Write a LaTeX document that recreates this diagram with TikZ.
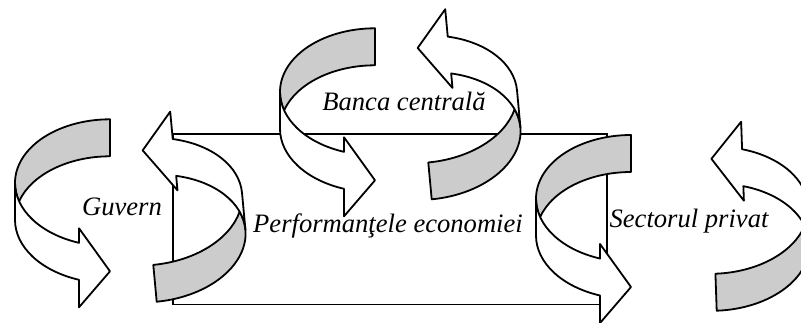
\documentclass[tikz,border=0pt]{standalone}
\usepackage{fontspec}
\setmainfont{Liberation Serif}
\usepackage{xcolor}
\usepackage{tikz}
\definecolor{backside}{HTML}{CCCCCC}

\begin{document}
\begin{tikzpicture}[
  x=0.5pt, y=0.5pt,
  every node/.style={font=\fontsize{13.3}{16}\selectfont\itshape},
  ribbon/.style={draw=black, line width=0.9pt, line join=round},
  ribbonfront/.style={ribbon, fill=white},
  ribbonback/.style={ribbon, fill=backside},
  box/.style={
    rectangle, draw=black, line width=0.9pt,
    minimum width=217pt, minimum height=85.25pt, inner sep=0pt
  },
  curvarrow/.pic={
    % inner face, seen at the back
    \path[ribbonback] (0,-37)
      arc[start angle=90, end angle=163.06, x radius=95, y radius=63.5]
      arc[start angle=196.94, end angle=90, x radius=95, y radius=63.5] -- cycle;
    % outer face with the head
    \path[ribbonfront] (-95,-63.5)
      arc[start angle=180, end angle=250.96, x radius=95, y radius=63.5]
      -- (-31,-109) -- (0,-152) -- (-31,-188) -- (-31,-160.5)
      arc[start angle=250.96, end angle=180, x radius=95, y radius=63.5] -- cycle;
  }
]
\useasboundingbox (0,0) rectangle (801,-322);
\clip (0,0) rectangle (801,-322);

\node[box] (perf) at (390,-219.3) {};
\node (perftxt) at (388,-226) {Performanţele economiei};

% Guvern
\pic (gvL) at (110,-119.3) {curvarrow};
\pic[rotate=185.3] (gvR) at (156.7,-301.7) {curvarrow};
\node (guv) at (122,-206.5) {Guvern};

% Banca centrala
\pic (bcL) at (375,-28.3) {curvarrow};
\pic[rotate=185.3] (bcR) at (431.7,-199.3) {curvarrow};
\node (banca) at (404,-101) {Banca centrală};

% Sectorul privat
\pic (spL) at (631,-135) {curvarrow};
\pic[rotate=182] (spR) at (716.7,-310.7) {curvarrow};
\node (sector) at (689,-221.5) {Sectorul privat};
\end{tikzpicture}
\end{document}
